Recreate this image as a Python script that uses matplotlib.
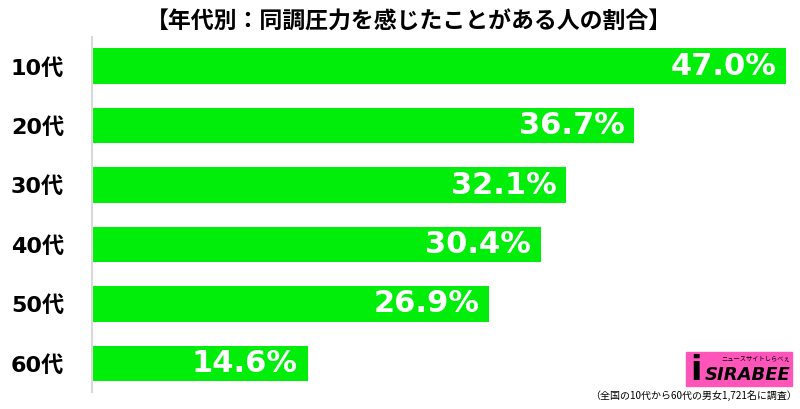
import matplotlib.pyplot as plt
from matplotlib.patches import Rectangle

plt.rcParams['font.family'] = ['DejaVu Sans', 'Noto Sans CJK JP']

# data
ages = ["10代", "20代", "30代", "40代", "50代", "60代"]
shares = [47.0, 36.7, 32.1, 30.4, 26.9, 14.6]

title = "【年代別：同調圧力を感じたことがある人の割合】"
note = "（全国の10代から60代の男女1,721名に調査）"

W, H = 800, 409
fig = plt.figure(figsize=(W / 100, H / 100), dpi=100)
fig.patch.set_facecolor("white")

# axes box in pixels: x 92..792, y 37..392
ax = fig.add_axes([92 / W, 1 - 392 / H, 700 / W, 355 / H])
ypos = list(range(len(ages)))
ax.barh(ypos, shares, height=0.6, color="#00EE0A", zorder=2)
ax.set_xlim(0, 47.4)
ax.set_ylim(5.48, -0.49)

for y, v in zip(ypos, shares):
    ax.annotate(f"{v:.1f}%", xy=(v, y), xytext=(-7, 0), textcoords="offset points",
                ha="right", va="center", color="white", fontsize=22,
                fontweight="bold", zorder=3)

ax.set_yticks(ypos)
ax.set_yticklabels(ages, fontsize=16, fontweight="bold")
ax.tick_params(axis="y", length=0, pad=20)
ax.set_xticks([])
for side in ["top", "right", "bottom"]:
    ax.spines[side].set_visible(False)
ax.spines["left"].set_color("#d9d9d9")
ax.spines["left"].set_linewidth(1.5)

fig.text(409 / W, 1 - 22 / H, title, ha="center", va="center",
         fontsize=16.5, fontweight="bold", family=["Noto Sans CJK JP"])

# SIRABEE logo box
fig.patches.append(Rectangle((686 / W, 1 - 386 / H), 106 / W, 34 / H,
                             transform=fig.transFigure, color="#FF55BB", zorder=5))
fig.text(690 / W, 1 - 370 / H, "i", fontsize=24, fontweight="bold",
         color="black", ha="left", va="center", zorder=6)
fig.text(790 / W, 1 - 375 / H, "SIRABEE", fontsize=13, fontweight="bold",
         style="italic", color="black", ha="right", va="center", zorder=6)
fig.text(790 / W, 1 - 358 / H, "ニュースサイトしらべぇ", fontsize=4.5,
         color="black", ha="right", va="center", zorder=6,
         family=["Noto Sans CJK JP"])

fig.text(797 / W, 1 - 396 / H, note, ha="right", va="center",
         fontsize=7.2, family=["Noto Sans CJK JP"])

fig.savefig("out.png", dpi=100)
